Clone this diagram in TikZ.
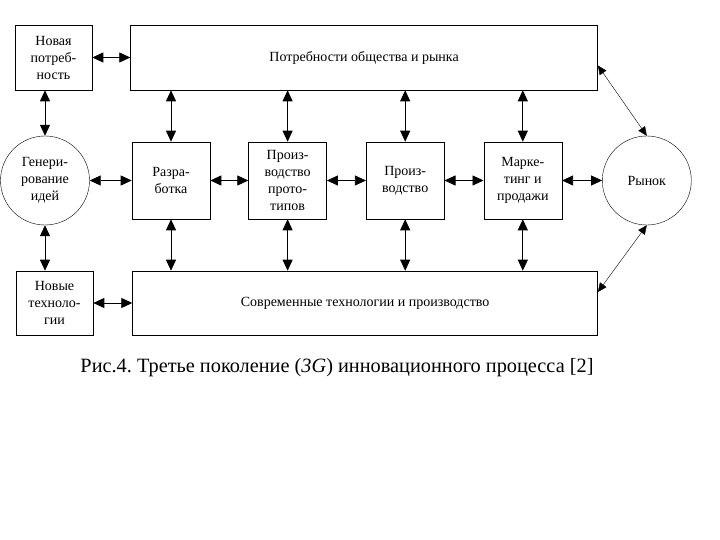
\documentclass[tikz,border=0pt]{standalone}
\usepackage{fontspec}
\setmainfont{Liberation Serif}
\usetikzlibrary{
arrows.meta,
positioning,
shapes.geometric
}

\begin{document}
\frenchspacing
\begin{tikzpicture}[
x=1pt,y=1pt,
node distance=38pt,
box/.style={
draw,
semithick,
minimum width=78pt,
minimum height=77pt,
inner sep=1pt,
align=center,
font=\fontsize{14}{17}\selectfont
},
wide/.style={
box,
minimum height=65pt
},
circ/.style={
draw,
circle,
minimum size=89pt,
inner sep=1pt,
align=center,
font=\fontsize{14}{17}\selectfont
},
arrow/.style={{Triangle[length=11pt,width=10pt]}-{Triangle[length=11pt,width=10pt]},thick},
thinarrow/.style={{Triangle[length=9pt,width=8pt]}-{Triangle[length=9pt,width=8pt]},thin}
]

\useasboundingbox (0,0) rectangle (720,-540);

% middle row
\node[box] (razr) at (171,-180.5) {Разра-\\ботка};
\node[box,right=38pt of razr] (proto) {Произ-\\водство\\прото-\\типов};
\node[box,right=39pt of proto] (proizv) {Произ-\\водство};
\node[box,right=39pt of proizv] (market) {Марке-\\тинг и\\продажи};
\node[circ,left=42pt of razr] (gen) {Генери-\\рование\\идей};
\node[circ,right=40pt of market] (rynok) {Рынок};

% top and bottom rows
\node[wide,minimum width=77pt] (need) at (53.5,-57.5) {Новая\\потреб-\\ность};
\node[wide,minimum width=467pt,right=38pt of need] (needs) {Потребности общества и рынка};
\node[wide,minimum width=77pt,minimum height=64pt] (newtech) at (54.5,-303) {Новые\\техноло-\\гии};
\node[wide,minimum width=465pt,minimum height=64pt,right=39pt of newtech] (modern) {Современные технологии и производство};

\node[font=\fontsize{20.3}{24}\selectfont] (caption) at (337,-368) {Рис.4. Третье поколение (\textit{3G}) инновационного процесса [2]};

\draw[arrow] (need) -- (needs);
\draw[arrow] (newtech) -- (modern);
\draw[arrow] (need.south -| gen.north) -- (gen.north);
\draw[arrow] (gen.south) -- (newtech.north -| gen.south);

\draw[arrow] (gen) -- (razr);
\draw[arrow] (razr) -- (proto);
\draw[arrow] (proto) -- (proizv);
\draw[arrow] (proizv) -- (market);
\draw[arrow] (market) -- (rynok);

\foreach \n in {razr,proto,proizv,market} {
\draw[arrow] (\n.north |- needs.south) -- (\n.north);
\draw[arrow] (\n.south) -- (\n.south |- modern.north);
}

\draw[thinarrow] ([yshift=-8pt]needs.east) -- (rynok.north);
\draw[thinarrow] ([yshift=11pt]modern.east) -- (rynok.south);

\end{tikzpicture}
\end{document}
